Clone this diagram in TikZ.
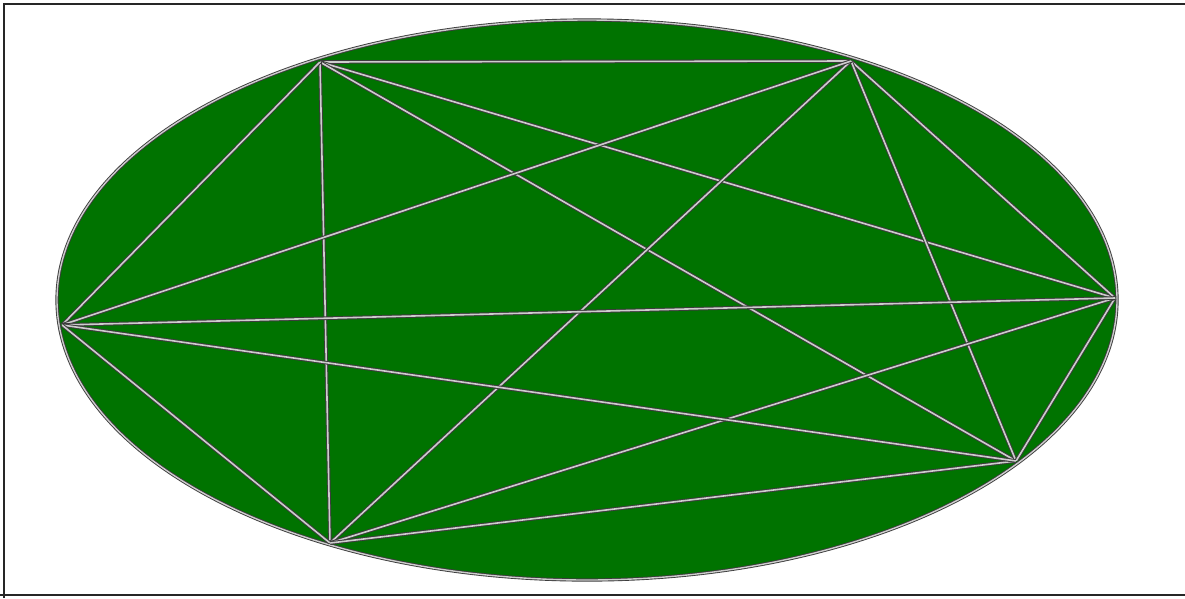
\documentclass[tikz,border=0pt]{standalone}
\definecolor{fieldgreen}{RGB}{0,115,0}
\definecolor{edgegray}{RGB}{60,60,60}
\definecolor{edgelight}{RGB}{205,205,205}
\tikzset{
  pt/.style={inner sep=0pt, minimum size=0pt},
  edge/.style={draw=edgegray, line width=1pt, double=edgelight, double distance=1.6pt},
}
\begin{document}
\begin{tikzpicture}[x=1pt,y=-1pt]
\useasboundingbox (0,0) rectangle (1185,598);
\fill[white] (0,0) rectangle (1185,598);
\draw[black!85, line width=2pt] (4,598) -- (4,4) -- (1185,4);
\draw[black!85, line width=2pt] (0,595) -- (1185,595);
\draw[fill=fieldgreen, draw=edgegray, line width=0.9pt, double=edgelight, double distance=1.4pt] (587,300) ellipse [x radius=530, y radius=280];
\node[pt] (A) at (320,62) {};
\node[pt] (B) at (851,61) {};
\node[pt] (C) at (1115,298) {};
\node[pt] (D) at (1016,461) {};
\node[pt] (E) at (330,543) {};
\node[pt] (F) at (62,325) {};
\foreach \u/\v in {A/B,A/C,A/D,A/E,A/F,B/C,B/D,B/E,B/F,C/D,C/E,C/F,D/E,D/F,E/F}
  \draw[edge] (\u) -- (\v);
\end{tikzpicture}
\end{document}
